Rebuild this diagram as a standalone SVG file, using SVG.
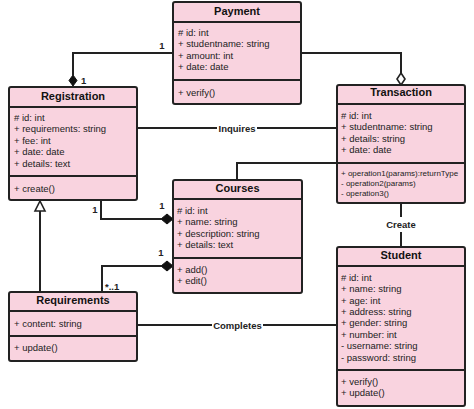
<svg xmlns="http://www.w3.org/2000/svg" width="474" height="409" viewBox="0 0 474 409">
<style>
.box{fill:#f9d3df;stroke:#222;stroke-width:2}
.sep{stroke:#222;stroke-width:2}
.t{font-family:"Liberation Sans",Arial,sans-serif;font-size:11px;font-weight:bold;fill:#111;text-anchor:middle}
.a{font-family:"Liberation Sans",Arial,sans-serif;font-size:9.5px;fill:#222}
.s{font-family:"Liberation Sans",Arial,sans-serif;font-size:8px;fill:#222}
.l{font-family:"Liberation Sans",Arial,sans-serif;font-size:9.5px;font-weight:bold;fill:#222}
.c{fill:none;stroke:#222;stroke-width:2}
.fd{fill:#111;stroke:#111;stroke-width:1}
.hd{fill:#fff;stroke:#222;stroke-width:1.6}
</style>
<rect width="474" height="409" fill="#fff"/>
<g id="connectors">
<path class="c" d="M173,53 H73 V75"/>
<polygon class="fd" points="73,75 77,80.5 73,86 69,80.5"/>
<text class="l" x="162" y="48.5" text-anchor="middle">1</text>
<text class="l" x="81" y="84">1</text>
<path class="c" d="M301,53 H401 V73"/>
<polygon class="hd" points="401,73 405,79 401,85 397,79"/>
<path class="c" d="M137,128 H217 M257,128 H337"/>
<text class="l" x="237" y="131.5" text-anchor="middle">Inquires</text>
<path class="c" d="M337,163 H237 V180"/>
<path class="c" d="M101,200 V219 H161"/>
<polygon class="fd" points="161,219 167,214 173,219 167,224"/>
<text class="l" x="95" y="212.5" text-anchor="middle">1</text>
<text class="l" x="162" y="208.5" text-anchor="middle">1</text>
<path class="c" d="M161,266 H102 V292"/>
<polygon class="fd" points="161,266 167,261 173,266 167,271"/>
<text class="l" x="161" y="255.5" text-anchor="middle">1</text>
<text class="l" x="105" y="289.5">*..1</text>
<path class="c" d="M40,292 V211"/>
<polygon class="hd" points="40,201 45,211 35,211"/>
<path class="c" d="M137,325 H212 M263,325 H337"/>
<text class="l" x="237.5" y="328.5" text-anchor="middle">Completes</text>
<path class="c" d="M401,203 V217 M401,232 V247"/>
<text class="l" x="401" y="227.5" text-anchor="middle">Create</text>
</g>
<g id="payment">
<rect class="box" x="173" y="2" width="128" height="102" rx="2"/>
<line class="sep" x1="173" y1="22" x2="301" y2="22"/>
<line class="sep" x1="173" y1="80" x2="301" y2="80"/>
<text class="t" x="237" y="15">Payment</text>
<text class="a" x="178" y="35.5"># id: int</text>
<text class="a" x="178" y="47">+ studentname: string</text>
<text class="a" x="178" y="58.5">+ amount: int</text>
<text class="a" x="178" y="70">+ date: date</text>
<text class="a" x="178" y="95.5">+ verify()</text>
</g>
<g id="registration">
<rect class="box" x="9" y="87" width="128" height="113" rx="2"/>
<line class="sep" x1="9" y1="107" x2="137" y2="107"/>
<line class="sep" x1="9" y1="176" x2="137" y2="176"/>
<text class="t" x="73" y="100">Registration</text>
<text class="a" x="14" y="120.5"># id: int</text>
<text class="a" x="14" y="132">+ requirements: string</text>
<text class="a" x="14" y="143.5">+ fee: int</text>
<text class="a" x="14" y="155">+ date: date</text>
<text class="a" x="14" y="166.5">+ details: text</text>
<text class="a" x="14" y="191.5">+ create()</text>
</g>
<g id="transaction">
<rect class="box" x="337" y="85" width="128" height="118" rx="2"/>
<line class="sep" x1="337" y1="104" x2="465" y2="104"/>
<line class="sep" x1="337" y1="163" x2="465" y2="163"/>
<text class="t" x="401" y="96">Transaction</text>
<text class="a" x="341" y="118.5"># id: int</text>
<text class="a" x="341" y="130">+ studentname: string</text>
<text class="a" x="341" y="141.5">+ details: string</text>
<text class="a" x="341" y="153">+ date: date</text>
<text class="s" x="341" y="176">+ operation1(params):returnType</text>
<text class="s" x="341" y="186">- operation2(params)</text>
<text class="s" x="341" y="196">- operation3()</text>
</g>
<g id="courses">
<rect class="box" x="173" y="180" width="129" height="113" rx="2"/>
<line class="sep" x1="173" y1="199" x2="302" y2="199"/>
<line class="sep" x1="173" y1="258" x2="302" y2="258"/>
<text class="t" x="237.5" y="192">Courses</text>
<text class="a" x="177" y="213.5"># id: int</text>
<text class="a" x="177" y="225">+ name: string</text>
<text class="a" x="177" y="236.5">+ description: string</text>
<text class="a" x="177" y="248">+ details: text</text>
<text class="a" x="177" y="272.5">+ add()</text>
<text class="a" x="177" y="284">+ edit()</text>
</g>
<g id="requirements">
<rect class="box" x="9" y="292" width="128" height="69" rx="2"/>
<line class="sep" x1="9" y1="311" x2="137" y2="311"/>
<line class="sep" x1="9" y1="336" x2="137" y2="336"/>
<text class="t" x="73" y="304">Requirements</text>
<text class="a" x="14" y="326.5">+ content: string</text>
<text class="a" x="14" y="350.5">+ update()</text>
</g>
<g id="student">
<rect class="box" x="337" y="247" width="128" height="159" rx="2"/>
<line class="sep" x1="337" y1="266" x2="465" y2="266"/>
<line class="sep" x1="337" y1="370" x2="465" y2="370"/>
<text class="t" x="401" y="259">Student</text>
<text class="a" x="341" y="280.5"># id: int</text>
<text class="a" x="341" y="292">+ name: string</text>
<text class="a" x="341" y="303.5">+ age: int</text>
<text class="a" x="341" y="314.5">+ address: string</text>
<text class="a" x="341" y="326">+ gender: string</text>
<text class="a" x="341" y="337.5">+ number: int</text>
<text class="a" x="341" y="349">- username: string</text>
<text class="a" x="341" y="360.5">- password: string</text>
<text class="a" x="341" y="384.5">+ verify()</text>
<text class="a" x="341" y="395.5">+ update()</text>
</g>
</svg>
